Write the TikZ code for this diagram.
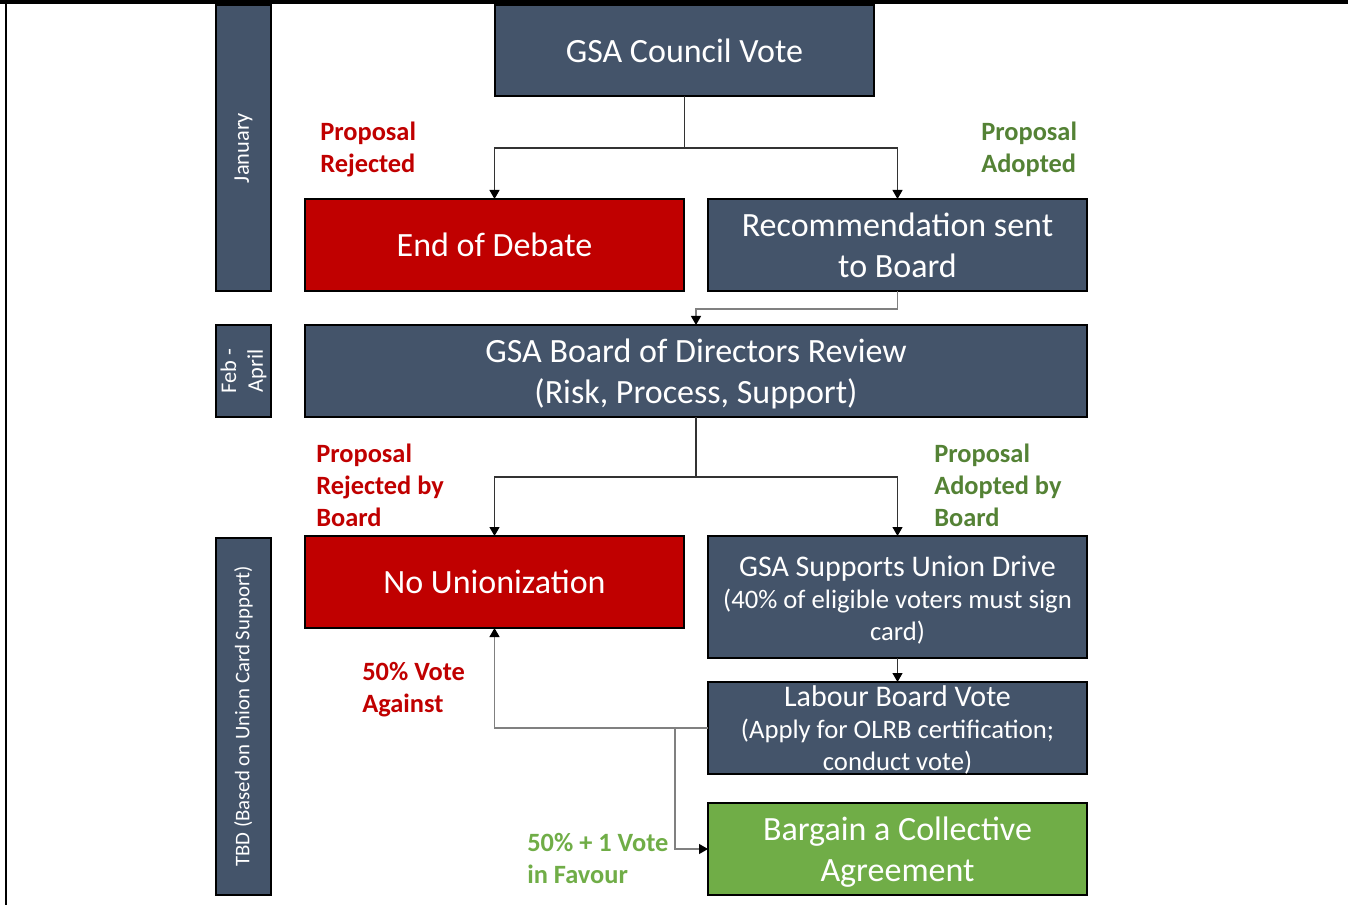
\documentclass[tikz,border=0pt]{standalone}
\usepackage{fontspec}
\setmainfont{Carlito}
\usetikzlibrary{arrows.meta}
\definecolor{slate}{HTML}{44546A}
\definecolor{darkred}{HTML}{C00000}
\definecolor{leaf}{HTML}{70AD47}
\definecolor{moss}{HTML}{548235}

\tikzset{
  box/.style={draw=black, line width=1pt, text=white, align=center,
    inner sep=0pt, outer sep=0pt, minimum width=284.25pt, minimum height=69pt},
  slatebox/.style={box, fill=slate},
  redbox/.style={box, fill=darkred},
  greenbox/.style={box, fill=leaf},
  phase/.style={draw=black, line width=1pt, fill=slate, text=white,
    inner sep=0pt, outer sep=0pt, minimum height=41.25pt, align=center,
    rotate=90, font=\fontsize{16.8pt}{20pt}\selectfont},
  big/.style={font=\fontsize{25.5pt}{30.75pt}\selectfont},
  small/.style={font=\fontsize{20pt}{24pt}\selectfont},
  note/.style={font=\bfseries\fontsize{19.8pt}{24pt}\selectfont,
    align=left, inner sep=0pt, anchor=west},
  conn/.style={line width=0.9pt, draw=black!80,
    -{Triangle[length=6.75pt,width=7.5pt,color=black]}},
  connlight/.style={conn, draw=black!50},
}

\begin{document}
\begin{tikzpicture}[x=0.75pt,y=-0.75pt]
\useasboundingbox (0,0) rectangle (1348,905);

% page frame: heavy top rule and thin left rule
\fill[black] (0,0) rectangle (1348,4.5);
\fill[black] (5,0) rectangle (7,905);

% time-line bars
\node[phase, minimum width=214.5pt] (jan) at (243.5,148) {January};
\node[phase, minimum width=69pt] (feb) at (243.5,371) {Feb -\\April};
\node[phase, minimum width=267.75pt, font=\fontsize{15.6pt}{19pt}\selectfont]
  (tbd) at (243.5,716.5) {TBD (Based on Union Card Support)};

% process boxes
\node[slatebox, big, minimum height=68.25pt] (council) at (684.5,50.5) {GSA Council Vote};
\node[redbox, big] (end) at (494.5,245) {End of Debate};
\node[slatebox, big] (rec) at (897.5,245) {Recommendation sent\\to Board};
\node[slatebox, minimum width=586.5pt] (board) at (696,371) {};
\node[big, text=white, align=center, inner sep=0pt] (boardtext) at (696,374)
  {GSA Board of Directors Review\\(Risk, Process, Support)};
\node[redbox, big] (nou) at (494.5,582) {No Unionization};
\node[slatebox, minimum height=91.5pt] (sup) at (897.5,597) {};
\node[small, text=white, align=center, inner sep=0pt] (suptext) at (897.5,600)
  {{\fontsize{22.5pt}{24pt}\selectfont GSA Supports Union Drive}\\(40\% of eligible voters must sign\\card)};
\node[slatebox] (lab) at (897.5,728) {};
\node[small, text=white, align=center, inner sep=0pt] (labtext) at (897.5,730)
  {{\fontsize{22.5pt}{24pt}\selectfont Labour Board Vote}\\(Apply for OLRB certification;\\conduct vote)};
\node[greenbox] (barg) at (897.5,849) {};
\node[big, text=white, align=center, inner sep=0pt] (bargtext) at (897.5,852)
  {Bargain a Collective\\Agreement};

% decision labels
\node[note, text=darkred] (rej1) at (320,149) {Proposal\\Rejected};
\node[note, text=moss] (adp1) at (981,149) {Proposal\\Adopted};
\node[note, text=darkred] (rej2) at (316,485) {Proposal\\Rejected by\\Board};
\node[note, text=moss] (adp2) at (934,485) {Proposal\\Adopted by\\Board};
\node[note, text=darkred] (against) at (362,690) {50\% Vote\\Against};
\node[note, text=leaf] (favour) at (527,858) {50\% + 1 Vote\\in Favour};

% connectors
\draw[conn] (council.south) -- ++(0,52) -| (end.north);
\draw[conn] (council.south) -- ++(0,52) -| (rec.north);
\draw[connlight] (rec.south) -- ++(0,18) -| (board.north);
\draw[conn] (board.south) -- ++(0,60) -| (nou.north);
\draw[conn] (board.south) -- ++(0,60) -| (sup.north);
\draw[conn] (sup.south) -- (lab.north);
\draw[connlight] (lab.west) -| (nou.south);
\draw[connlight] (lab.west) -- ++(-33,0) |- (barg.west);
\end{tikzpicture}
\end{document}
